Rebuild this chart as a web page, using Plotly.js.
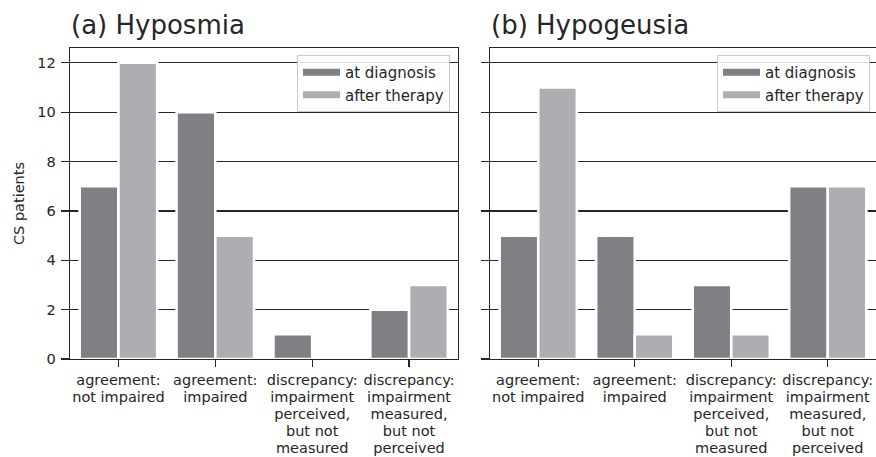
<!DOCTYPE html>
<html>
<head>
<meta charset="utf-8">
<script src="https://cdn.plot.ly/plotly-3.0.1.min.js"></script>
<style>html,body{margin:0;padding:0;background:#fff;}#chart{width:876px;height:457px;}</style>
</head>
<body>
<div id="chart"></div>
<script>
const categories = [
  "agreement:<br>not impaired",
  "agreement:<br>impaired",
  "discrepancy:<br>impairment<br>perceived,<br>but not<br>measured",
  "discrepancy:<br>impairment<br>measured,<br>but not<br>perceived"
];
const seriesNames = ["at diagnosis", "after therapy"];
const hyposmiaDiagnosis = [7, 10, 1, 2];
const hyposmiaTherapy = [12, 5, 0, 3];
const hypogeusiaDiagnosis = [5, 5, 3, 7];
const hypogeusiaTherapy = [11, 1, 1, 7];
const panelTitles = ["(a) Hyposmia", "(b) Hypogeusia"];
const yTicks = [0, 2, 4, 6, 8, 10, 12];

const darkColor = "#7f7f84";
const lightColor = "#adaeb2";
const ink = "#262626";
const font = "DejaVu Sans";
const fs = 14.5;

function bar(y, name, color, xa, ya) {
  return {
    type: "bar", x: categories, y: y, name: name, xaxis: xa, yaxis: ya,
    marker: {color: color, line: {color: "#ffffff", width: 2.6}},
    showlegend: false, hoverinfo: "y"
  };
}
function legendItem(name, color, xa, ya, leg, grp) {
  return {
    type: "scatter", mode: "lines", x: [null], y: [null], name: name,
    xaxis: xa, yaxis: ya, legend: leg, legendgroup: grp,
    line: {color: color, width: 7}, hoverinfo: "skip"
  };
}

const data = [
  bar(hyposmiaDiagnosis, seriesNames[0], darkColor, "x", "y"),
  bar(hyposmiaTherapy, seriesNames[1], lightColor, "x", "y"),
  bar(hypogeusiaDiagnosis, seriesNames[0], darkColor, "x2", "y2"),
  bar(hypogeusiaTherapy, seriesNames[1], lightColor, "x2", "y2"),
  legendItem(seriesNames[0], darkColor, "x", "y", "legend", "a1"),
  legendItem(seriesNames[1], lightColor, "x", "y", "legend", "a2"),
  legendItem(seriesNames[0], darkColor, "x2", "y2", "legend2", "b1"),
  legendItem(seriesNames[1], lightColor, "x2", "y2", "legend2", "b2")
];

const W = 876, H = 457;
const yTop = 1 - 48 / H, yBot = 1 - 359 / H;

function xaxis(d0, d1, anchor) {
  return {
    domain: [d0, d1], anchor: anchor, type: "category", range: [-0.5, 3.5],
    showline: true, linecolor: ink, linewidth: 1.3, mirror: true,
    ticks: "outside", ticklen: 7, tickwidth: 1.3, tickcolor: ink,
    tickfont: {family: font, size: fs, color: ink},
    showgrid: false, zeroline: false, automargin: false, tickangle: 0
  };
}
function yaxis(anchor, labels) {
  return {
    domain: [yBot, yTop], anchor: anchor, range: [0, 12.6],
    tickvals: yTicks, showticklabels: labels,
    showline: true, linecolor: ink, linewidth: 1.3, mirror: true,
    ticks: "outside", ticklen: 8, tickwidth: 1.3, tickcolor: ink,
    tickfont: {family: font, size: fs, color: ink}, ticklabelstandoff: 2,
    showgrid: true, gridcolor: ink, gridwidth: 1.3,
    zeroline: false, automargin: false
  };
}

const ya = yaxis("x", true);
ya.title = {text: "CS patients", font: {family: font, size: fs, color: ink}, standoff: 9};

const legendBase = {
  yref: "paper", xanchor: "right", yanchor: "top",
  bgcolor: "rgba(255,255,255,0.85)", bordercolor: "#cccccc", borderwidth: 1,
  font: {family: font, size: 15, color: ink}, tracegroupgap: 0,
  itemwidth: 37
};

const layout = {
  width: W, height: H,
  margin: {l: 0, r: 0, t: 0, b: 0},
  paper_bgcolor: "#ffffff", plot_bgcolor: "#ffffff",
  barmode: "group", bargap: 0.2, bargroupgap: 0,
  font: {family: font, color: ink},
  xaxis: xaxis(70 / W, 457.5 / W, "y"),
  yaxis: ya,
  xaxis2: xaxis(490 / W, 1, "y2"),
  yaxis2: yaxis("x2", false),
  legend: Object.assign({}, legendBase, {x: 450 / W, y: 1 - 55 / H}),
  legend2: Object.assign({}, legendBase, {x: 870 / W, y: 1 - 55 / H}),
  annotations: [
    {text: panelTitles[0], xref: "paper", yref: "paper", x: 69 / W, y: 1 - 25 / H,
     xanchor: "left", yanchor: "middle", showarrow: false,
     font: {family: font, size: 26, color: ink}},
    {text: panelTitles[1], xref: "paper", yref: "paper", x: 489 / W, y: 1 - 25 / H,
     xanchor: "left", yanchor: "middle", showarrow: false,
     font: {family: font, size: 26, color: ink}}
  ]
};

Plotly.newPlot("chart", data, layout, {displayModeBar: false, staticPlot: true}).then(function (gd) {
  // tighten multi-line tick label spacing to match the reference (about 17px per line)
  gd.querySelectorAll(".xtick text, .x2tick text").forEach(function (t) {
    t.querySelectorAll("tspan.line").forEach(function (ts, i) {
      ts.setAttribute("dy", (i * 17 / fs) + "em");
    });
  });
});
</script>
</body>
</html>
